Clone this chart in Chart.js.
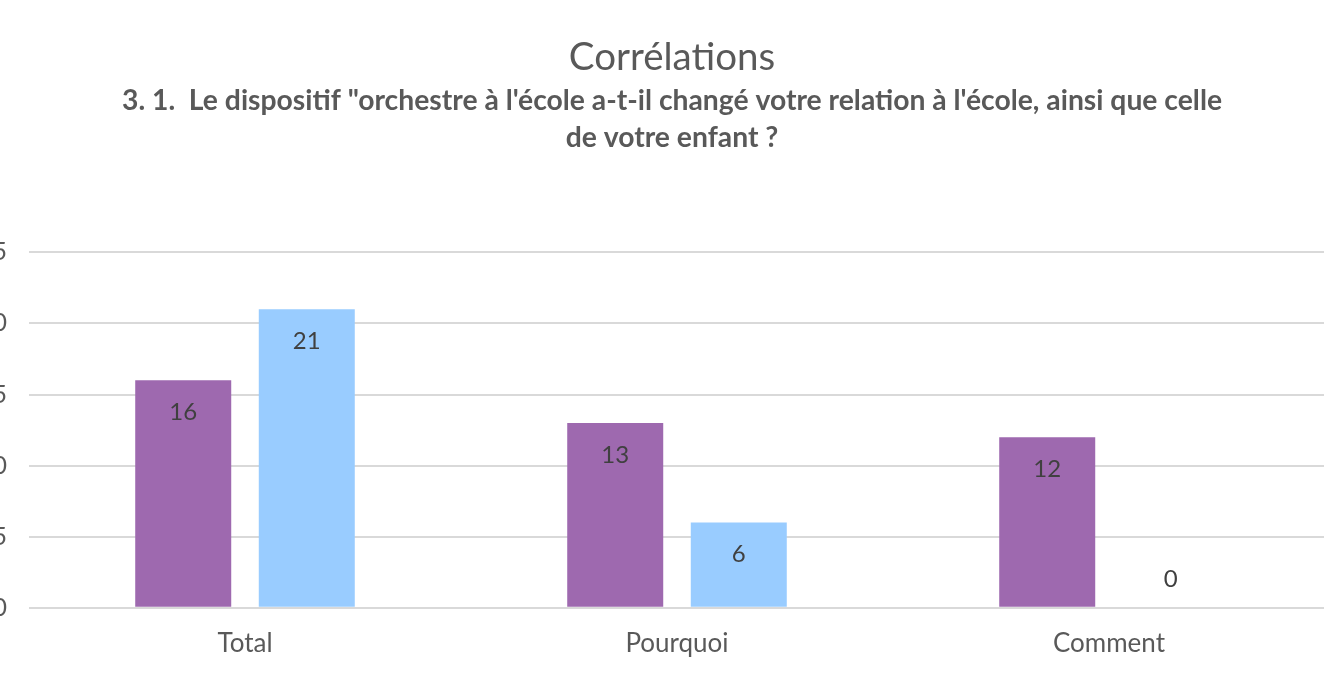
<!DOCTYPE html>
<html>
<head>
<meta charset="utf-8">
<script src="https://cdn.jsdelivr.net/npm/chart.js@4"></script>
<style>
  html,body{margin:0;padding:0;background:#fff;overflow:hidden;}
  #wrap{position:relative;width:1324px;height:683px;overflow:hidden;}
  #c{position:absolute;left:-31px;top:0;}
</style>
</head>
<body>
<div id="wrap"><canvas id="c" width="1406" height="683"></canvas></div>
<script>
// ── data ─────────────────────────────────────────
const categories = ['Total', 'Pourquoi', 'Comment'];
const seriesA = [16, 13, 12];   // violet
const seriesB = [21, 6, 0];     // bleu clair
const yTicks = [0, 5, 10, 15, 20, 25];

const TXT = '#595959';
const FONT = 'Lato, "Open Sans", sans-serif';

// étiquettes de valeurs (à l'intérieur, en haut)
const valueLabels = {
  id:'valueLabels',
  afterDatasetsDraw(chart){
    const ctx = chart.ctx;
    ctx.save();
    ctx.font = '24px ' + FONT;
    ctx.fillStyle = '#404040';
    ctx.textAlign = 'center';
    ctx.textBaseline = 'middle';
    chart.data.datasets.forEach((ds, di)=>{
      chart.getDatasetMeta(di).data.forEach((bar, i)=>{
        const v = ds.data[i];
        const y = v===0 ? bar.y - 29 : bar.y + 32;
        ctx.fillText(String(v), bar.x, y);
      });
    });
    ctx.restore();
  }
};

new Chart(document.getElementById('c'), {
  type:'bar',
  plugins:[valueLabels],
  data:{
    labels:categories,
    datasets:[
      {label:'A', data:seriesA, backgroundColor:'#9e69af',
       categoryPercentage:0.572, barPercentage:0.777},
      {label:'B', data:seriesB, backgroundColor:'#99ccff',
       categoryPercentage:0.572, barPercentage:0.777}
    ]
  },
  options:{
    responsive:false, animation:false,
    layout:{padding:{top:0, right:0, bottom:4, left:0}},
    scales:{
      x:{
        grid:{display:false, drawTicks:false},
        border:{display:false},
        ticks:{color:TXT, font:{family:FONT, size:26}, padding:20}
      },
      y:{
        min:0, max:25,
        afterFit(s){ s.width = 60; },
        afterBuildTicks(s){ s.ticks = yTicks.map(v=>({value:v})); },
        grid:{color:'#d9d9d9', lineWidth:2, drawTicks:false},
        border:{display:false},
        ticks:{color:TXT, font:{family:FONT, size:25}, padding:22}
      },
      // empty spacer on the right so the titles stay centred like the original
      yR:{
        position:'right', min:0, max:25,
        afterFit(s){ s.width = 50; },
        grid:{display:false, drawTicks:false},
        border:{display:false},
        ticks:{display:false}
      }
    },
    plugins:{
      legend:{display:false},
      tooltip:{enabled:false},
      title:{display:true, text:'Corrélations', color:TXT,
             font:{family:FONT, size:38.5, weight:'normal'},
             padding:{top:34, bottom:2}},
      subtitle:{display:true,
        text:['3. 1.  Le dispositif "orchestre à l\'école a-t-il changé votre relation à l\'école, ainsi que celle',
              'de votre enfant ?'],
        color:TXT, font:{family:FONT, size:28.3, weight:'bold', lineHeight:1.31},
        padding:{top:0, bottom:96}}
    }
  }
});
</script>
</body>
</html>
